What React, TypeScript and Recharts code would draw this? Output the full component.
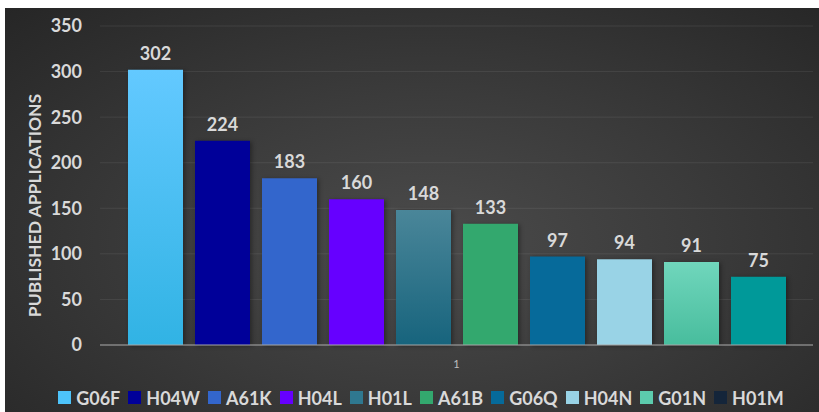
import { BarChart, Bar, XAxis, YAxis, CartesianGrid, Legend, LabelList, Label } from "recharts";

const codes = ["G06F", "H04W", "A61K", "H04L", "H01L", "A61B", "G06Q", "H04N", "G01N", "H01M"];
const counts = [302, 224, 183, 160, 148, 133, 97, 94, 91, 75];
const barFills = [
  "url(#gradG06F)",
  "#000099",
  "#3366cc",
  "#6600ff",
  "url(#gradH01L)",
  "#33a86e",
  "#066a9a",
  "#99d3e6",
  "url(#gradG01N)",
  "#009999",
];
const legendFills = [
  "#4dc3fa",
  "#000099",
  "#3366cc",
  "#6600ff",
  "#2f7890",
  "#33a86e",
  "#066a9a",
  "#99d3e6",
  "#5ccbad",
  "#14253a",
];
const yTicks = [0, 50, 100, 150, 200, 250, 300, 350];

const FONT = "Lato, 'Open Sans', sans-serif";
const TEXT = "#d9d9d9";

const row: Record<string, string | number> = { name: "1" };
codes.forEach((c, i) => {
  row[c] = counts[i];
});
const data = [row];

function LegendBox() {
  return (
    <div
      style={{
        height: 37,
        boxSizing: "border-box",
        paddingTop: 8,
        paddingLeft: 32,
        display: "flex",
        alignItems: "center",
        justifyContent: "center",
        fontFamily: FONT,
        fontWeight: 700,
        fontSize: 18,
        color: TEXT,
      }}
    >
      {codes.map((c, i) => (
        <span key={c} style={{ display: "flex", alignItems: "center", marginRight: 8 }}>
          <span style={{ width: 13, height: 13, background: legendFills[i], marginRight: 5 }} />
          {c}
        </span>
      ))}
    </div>
  );
}

export default function App() {
  return (
    <div
      style={{
        position: "absolute",
        left: 5,
        top: 8,
        width: 814,
        height: 404,
        background: "radial-gradient(ellipse at 52% 58%, #4b4b4b 0%, #3b3b3b 45%, #262626 100%)",
      }}
    >
      <BarChart
        width={814}
        height={404}
        data={data}
        margin={{ top: 18, right: 6, left: 0, bottom: 0 }}
        barSize={55}
        barGap={12}
      >
        <defs>
          <linearGradient id="gradG06F" x1="0" y1="0" x2="0" y2="1">
            <stop offset="0%" stopColor="#63c9ff" />
            <stop offset="100%" stopColor="#31b3e4" />
          </linearGradient>
          <linearGradient id="gradH01L" x1="0" y1="0" x2="0" y2="1">
            <stop offset="0%" stopColor="#4a8699" />
            <stop offset="100%" stopColor="#17647d" />
          </linearGradient>
          <linearGradient id="gradG01N" x1="0" y1="0" x2="0" y2="1">
            <stop offset="0%" stopColor="#70d6bc" />
            <stop offset="100%" stopColor="#48bd9d" />
          </linearGradient>
        </defs>
        <CartesianGrid vertical={false} stroke="rgba(255,255,255,0.08)" />
        <XAxis
          dataKey="name"
          height={30}
          stroke="#a6a6a6"
          tickLine={false}
          tick={{ fill: "#bfbfbf", fontSize: 11, fontFamily: FONT }}
          tickMargin={9}
        />
        <YAxis
          width={95}
          domain={[0, 350]}
          ticks={yTicks}
          axisLine={false}
          tickLine={false}
          tickSize={0}
          tickMargin={18}
          tick={{ fill: TEXT, fontSize: 18, fontWeight: 700, fontFamily: FONT }}
        >
          <Label
            content={({ viewBox }: any) => {
              const cx = 29;
              const cy = viewBox.y + viewBox.height / 2 + 20;
              return (
                <text
                  x={cx}
                  y={cy}
                  transform={`rotate(-90 ${cx} ${cy})`}
                  textAnchor="middle"
                  dominantBaseline="central"
                  fill={TEXT}
                  fontSize={17.5}
                  fontWeight={700}
                  fontFamily={FONT}
                >
                  PUBLISHED APPLICATIONS
                </text>
              );
            }}
          />
        </YAxis>
        <Legend verticalAlign="bottom" height={37} content={() => <LegendBox />} />
        {codes.map((c, i) => (
          <Bar
            key={c}
            dataKey={c}
            fill={barFills[i]}
            isAnimationActive={false}
            style={{ filter: "drop-shadow(2px 1px 2px rgba(0,0,0,0.35))" }}
          >
            <LabelList
              dataKey={c}
              position="top"
              offset={10}
              fill={TEXT}
              fontSize={18}
              fontWeight={700}
              fontFamily={FONT}
            />
          </Bar>
        ))}
      </BarChart>
    </div>
  );
}
